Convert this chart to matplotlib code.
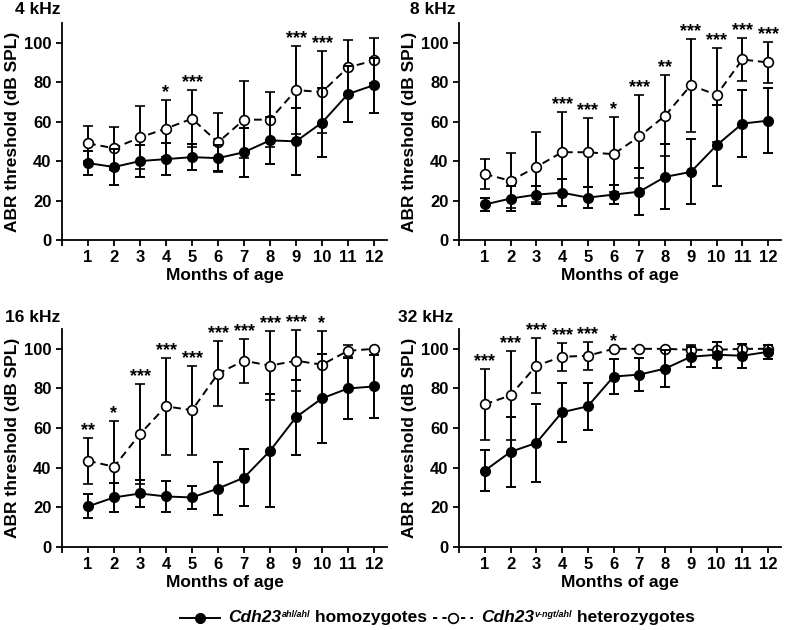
import matplotlib as mpl
mpl.use('Agg')
import matplotlib.pyplot as plt
from matplotlib.lines import Line2D
from matplotlib.offsetbox import AnchoredOffsetbox, HPacker, TextArea, DrawingArea

plt.rcParams['font.family'] = ['Liberation Sans', 'DejaVu Sans']
plt.rcParams['font.weight'] = 'bold'

months = list(range(1, 13))
titles = ["4 kHz", "8 kHz", "16 kHz", "32 kHz"]

# homozygotes (filled), mean and SD
homo_4 = [39, 37, 40, 41, 42, 41.5, 44.5, 50.5, 50, 59.5, 74, 78.5]
homo_4_sd = [6, 9, 8, 8, 6.5, 6.5, 12.5, 12, 17, 17.5, 14, 14]
homo_8 = [18, 21, 23, 24, 21.5, 23, 24.5, 32, 34.5, 48, 59, 60.5]
homo_8_sd = [3.5, 6.5, 4.5, 7, 5.5, 5, 12, 16.5, 16.5, 20.5, 17, 16.5]
homo_16 = [20.5, 25, 27, 25.5, 25, 29.5, 35, 48.5, 65.5, 75, 80, 81]
homo_16_sd = [6, 7.5, 7, 8, 6, 13.5, 14.5, 28.5, 19, 22.5, 15.5, 16]
homo_32 = [38.5, 48, 52.5, 68, 71, 86, 87, 90, 96, 97, 96.5, 98.5]
homo_32_sd = [10.3, 17.5, 19.5, 15, 12, 9, 8.5, 9.5, 5, 6.5, 6, 3.5]

# heterozygotes (open), mean and SD
het_4 = [49, 46.5, 52, 56.5, 61.5, 49.5, 61, 61, 76, 75, 87.5, 91]
het_4_sd = [9, 11, 16, 14.5, 14.5, 15, 19.5, 14, 22.5, 21, 14, 11.5]
het_8 = [33.5, 30, 37, 44.5, 44.5, 43.5, 52.5, 63, 78.5, 73.5, 91.5, 90]
het_8_sd = [7.5, 14, 17.5, 20.5, 17.5, 19, 21, 20.5, 23.5, 24, 11, 10.5]
het_16 = [43.5, 40.5, 57, 71, 69, 87.5, 94, 91.5, 94, 92, 99, 100]
het_16_sd = [11.5, 23, 25, 24.5, 22.5, 16.5, 11, 17.5, 15.5, 17, 3, 0]
het_32 = [72, 76.5, 91.5, 96, 96.5, 100, 100, 100, 99.5, 99.5, 100, 100]
het_32_sd = [18, 22.5, 14, 7, 7, 0, 0, 0, 2.5, 4, 2.5, 2]

stars_4 = {4: "*", 5: "***", 9: "***", 10: "***"}
stars_8 = {4: "***", 5: "***", 6: "*", 7: "***", 8: "**", 9: "***",
           10: "***", 11: "***", 12: "***"}
stars_16 = {1: "**", 2: "*", 3: "***", 4: "***", 5: "***", 6: "***",
            7: "***", 8: "***", 9: "***", 10: "*"}
stars_32 = {1: "***", 2: "***", 3: "***", 4: "***", 5: "***", 6: "*"}

panels = [
    (homo_4, homo_4_sd, het_4, het_4_sd, stars_4),
    (homo_8, homo_8_sd, het_8, het_8_sd, stars_8),
    (homo_16, homo_16_sd, het_16, het_16_sd, stars_16),
    (homo_32, homo_32_sd, het_32, het_32_sd, stars_32),
]

W, H = 787, 630
fig = plt.figure(figsize=(W / 100, H / 100), dpi=100)

boxes = [
    [62 / W, 1 - 240 / H, 325 / W, 217 / H],
    [459 / W, 1 - 240 / H, 322 / W, 217 / H],
    [62 / W, 1 - 547 / H, 325 / W, 218 / H],
    [459 / W, 1 - 547 / H, 322 / W, 218 / H],
]
title_pos = [(15, 10), (410, 10), (5, 317), (398, 317)]
dash = (0, (4, 2.5))

for i, (hm, hs, ht, hts, stars) in enumerate(panels):
    ax = fig.add_axes(boxes[i])
    ax.errorbar(months, ht, yerr=hts, color='black', lw=1.4, ls=dash,
                marker='o', ms=7, mfc='white', mec='black', mew=1.2,
                ecolor='black', elinewidth=1.4, capsize=3.5, capthick=1.4,
                zorder=3, clip_on=False)
    ax.errorbar(months, hm, yerr=hs, color='black', lw=1.4,
                marker='o', ms=7, mfc='black', mec='black',
                ecolor='black', elinewidth=1.4, capsize=3.5, capthick=1.4,
                zorder=4, clip_on=False)
    for m, s in stars.items():
        top = ht[m - 1] + hts[m - 1]
        ax.text(m, top - 0.5, s, ha='center', va='bottom', fontsize=13,
                fontweight='bold', clip_on=False)
    ax.set_xlim(0, 12.5)
    ax.set_ylim(0, 110)
    ax.set_xticks(range(0, 13))
    ax.set_xticklabels([''] + [str(m) for m in months])
    ax.set_yticks(range(0, 101, 20))
    ax.spines['top'].set_visible(False)
    ax.spines['right'].set_visible(False)
    ax.spines['left'].set_linewidth(1.3)
    ax.spines['bottom'].set_linewidth(1.3)
    ax.tick_params(width=1.3, length=4.5, labelsize=12, pad=3)
    for lab in ax.get_xticklabels() + ax.get_yticklabels():
        lab.set_fontweight('bold')
    ax.set_xlabel("Months of age", fontsize=12.5, fontweight='bold', labelpad=2)
    ax.set_ylabel("ABR threshold (dB SPL)", fontsize=12.5, fontweight='bold',
                  labelpad=3)
    tx, ty = title_pos[i]
    fig.text(tx / W, 1 - ty / H, titles[i], fontsize=12.5, fontweight='bold',
             ha='left', va='center')


# legend with small superscripts
def handle(filled):
    da = DrawingArea(29, 11.8, 0, 0)
    if filled:
        da.add_artist(Line2D([0, 29], [5.9, 5.9], color='black', lw=1.4))
        da.add_artist(Line2D([14.5], [5.9], marker='o', ms=7, color='black'))
    else:
        da.add_artist(Line2D([0, 29], [5.9, 5.9], color='black', lw=1.4,
                             ls=(0, (2.2, 2.6))))
        da.add_artist(Line2D([14.5], [5.9], marker='o', ms=7, mfc='white',
                             mec='black', mew=1.2))
    return da


def gap(w):
    return DrawingArea(w, 1, 0, 0)


main = dict(size=12.5, weight='bold')
ital = dict(size=12.5, weight='bold', style='italic')
sup = dict(size=6.5, weight='bold', style='italic')
items = [handle(True), gap(6), TextArea("Cdh23", textprops=ital),
         TextArea("ahl/ahl", textprops=sup), TextArea(" homozygotes", textprops=main),
         gap(4), handle(False), gap(6), TextArea("Cdh23", textprops=ital),
         TextArea("v-ngt/ahl", textprops=sup),
         TextArea(" heterozygotes", textprops=main)]
box = HPacker(children=items, align='top', pad=0, sep=0)
anch = AnchoredOffsetbox(loc='center left', child=box, pad=0, borderpad=0,
                         frameon=False, bbox_to_anchor=(180 / W, 1 - 618 / H),
                         bbox_transform=fig.transFigure)
fig.add_artist(anch)

fig.savefig('out.png', dpi=100)
